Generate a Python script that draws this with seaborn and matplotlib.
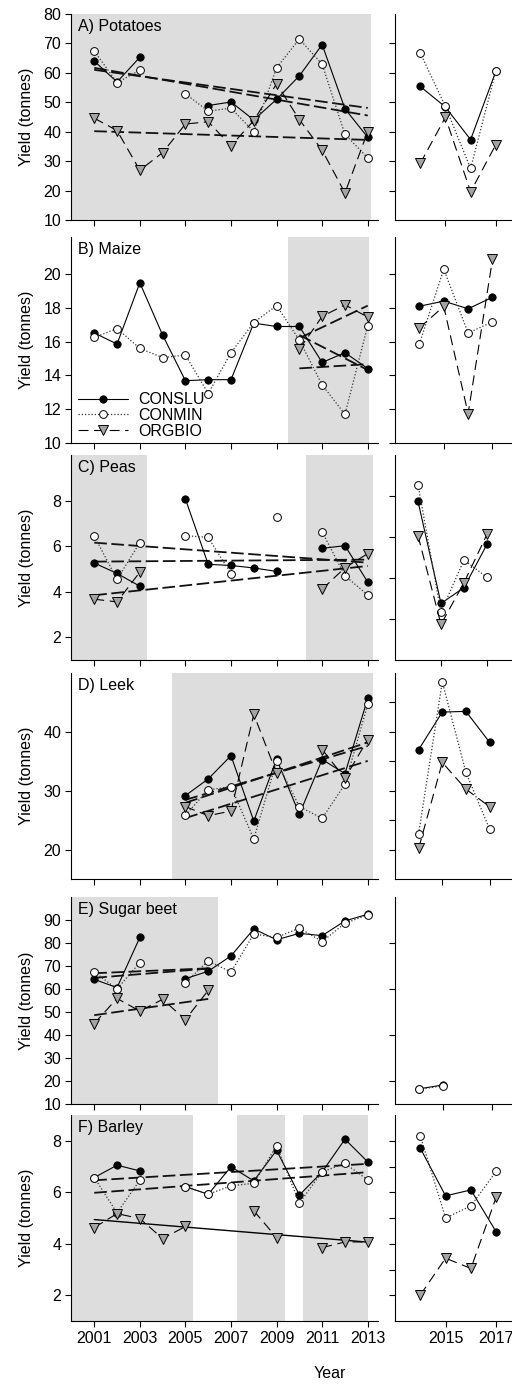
import numpy as np
import pandas as pd
import matplotlib
matplotlib.use("Agg")
import matplotlib.pyplot as plt
from matplotlib.lines import Line2D
import seaborn as sns

nan = np.nan
years_early = list(range(2001, 2014))
years_late = [2014, 2015, 2016, 2017]
treatments = ["CONSLU", "CONMIN", "ORGBIO"]
crop_titles = ["A) Potatoes", "B) Maize", "C) Peas", "D) Leek", "E) Sugar beet", "F) Barley"]

# ---------------- data (tonnes) ----------------
potatoes_conslu = [64.0, 56.9, 65.3, nan, nan, 48.9, 50.1, 44.0, 51.0, 59.0, 69.6, 47.8, 38.1]
potatoes_conmin = [67.4, 56.7, 60.9, nan, 52.9, 47.0, 48.0, 40.0, 61.7, 71.5, 62.9, 39.1, 31.1]
potatoes_orgbio = [44.6, 40.4, 26.9, 32.9, 42.6, 43.4, 35.2, 43.8, 56.3, 44.1, 33.7, 19.2, 40.0]
potatoes_conslu_late = [55.4, 48.4, 37.3, 60.5]
potatoes_conmin_late = [66.8, 48.6, 27.5, 60.6]
potatoes_orgbio_late = [29.2, 44.9, 19.6, 35.6]

maize_conslu = [16.52, 15.86, 19.49, 16.39, 13.69, 13.75, 13.75, 17.1, 16.9, 16.9, 14.77, 15.35, 14.41]
maize_conmin = [16.25, 16.78, 15.6, 15.06, 15.21, 12.93, 15.35, 17.13, 18.14, 16.09, 13.44, 11.7, 16.95]
maize_orgbio = [nan, nan, nan, nan, nan, nan, nan, nan, nan, 15.55, 17.5, 18.18, 17.46]
maize_conslu_late = [18.1, 18.4, 17.95, 18.63]
maize_conmin_late = [15.86, 20.29, 16.52, 17.17]
maize_orgbio_late = [16.82, 18.09, 11.74, 20.88]

peas_conslu = [5.26, 4.8, 4.24, nan, 8.07, 5.2, 5.15, 5.04, 4.89, nan, 5.9, 6.02, 4.42]
peas_conmin = [6.44, 4.54, 6.15, nan, 6.46, 6.38, 4.79, nan, 7.26, nan, 6.62, 4.7, 3.85]
peas_orgbio = [3.67, 3.55, 4.86, nan, nan, nan, nan, nan, nan, nan, 4.11, 5.05, 5.67]
peas_conslu_late = [7.74, 2.76, 3.53, 5.64]
peas_conmin_late = [8.55, 2.33, 4.88, 4.03]
peas_orgbio_late = [6.07, 1.74, 3.77, 6.13]

leek_conslu = [nan, nan, nan, nan, 29.17, 32.0, 35.95, 24.84, 35.4, 26.0, 35.3, 32.9, 45.7]
leek_conmin = [nan, nan, nan, nan, 25.87, 30.14, 30.7, 21.8, 35.0, 27.3, 25.3, 31.1, 44.67]
leek_orgbio = [nan, nan, nan, nan, 27.3, 25.75, 26.55, 42.96, 33.0, nan, 37.0, 32.1, 38.7]
leek_conslu_late = [36.98, 43.36, 43.48, 38.23]
leek_conmin_late = [22.7, 48.5, 33.1, 23.5]
leek_orgbio_late = [20.2, 34.8, 30.26, 27.3]

beet_conslu = [64.2, 60.6, 82.4, nan, 64.5, 67.7, 74.4, 86.1, 81.4, 84.2, 83.2, 89.6, 92.5]
beet_conmin = [67.4, 60.0, 71.5, nan, 62.8, 72.2, 67.4, 83.9, 82.4, 86.5, 80.6, 88.6, 92.2]
beet_orgbio = [45.0, 55.9, 50.4, 55.5, 46.7, 59.4, nan, nan, nan, nan, nan, nan, nan]
beet_conslu_late = [16.6, 18.3, nan, nan]
beet_conmin_late = [16.4, 17.9, nan, nan]
beet_orgbio_late = [nan, nan, nan, nan]

barley_conslu = [6.57, 7.05, 6.83, nan, 6.22, 5.92, 6.99, 6.44, 7.63, 5.89, 6.79, 8.06, 7.18]
barley_conmin = [6.57, 5.2, 6.47, nan, 6.22, 5.92, 6.25, 6.35, 7.8, 5.58, 6.79, 7.12, 6.48]
barley_orgbio = [4.63, 5.17, 4.98, 4.2, 4.67, nan, nan, 5.28, 4.24, nan, 3.85, 4.07, 4.07]
barley_conslu_late = [7.71, 5.86, 6.09, 4.46]
barley_conmin_late = [8.19, 5.0, 5.47, 6.81]
barley_orgbio_late = [2.01, 3.44, 3.04, 5.81]

# years used for the linear trends in each panel
trend_first_year = [2001, 2010, 2001, 2001, 2001, 2001]
trend_last_year = [2013, 2013, 2013, 2013, 2006, 2013]

# grey shaded periods
shade_potatoes = [(1999.5, 2013.15)]
shade_maize = [(2009.52, 2013.05)]
shade_peas = [(1999.5, 2003.32), (2010.3, 2013.25)]
shade_leek = [(2004.43, 2013.25)]
shade_beet = [(1999.5, 2006.45)]
shade_barley = [(1999.5, 2005.33), (2007.26, 2009.38), (2010.17, 2013.0)]

# ---------------- style ----------------
sns.set_theme(style="ticks")
plt.rcParams['font.family'] = ['Liberation Sans', 'DejaVu Sans']
plt.rcParams.update({
    "text.color": "black", "axes.labelcolor": "black",
    "xtick.color": "black", "ytick.color": "black",
    "axes.edgecolor": "black", "axes.linewidth": 0.8,
})
FS = 11.5
SHADE = "#DDDDDD"

styles = {
    "CONSLU": dict(color="black", lw=0.8, linestyle="-", marker="o", ms=5.3,
                   mfc="black", mec="black", mew=0.6),
    "CONMIN": dict(color="#333333", lw=0.9, linestyle=(0, (1, 1.6)), marker="o", ms=5.6,
                   mfc="white", mec="black", mew=0.7),
    "ORGBIO": dict(color="black", lw=0.8, linestyle=(0, (9, 5)), marker="v", ms=7.8,
                   mfc="#A3A3A3", mec="black", mew=0.7),
}

panels = [
    (potatoes_conslu, potatoes_conmin, potatoes_orgbio,
     potatoes_conslu_late, potatoes_conmin_late, potatoes_orgbio_late, shade_potatoes),
    (maize_conslu, maize_conmin, maize_orgbio,
     maize_conslu_late, maize_conmin_late, maize_orgbio_late, shade_maize),
    (peas_conslu, peas_conmin, peas_orgbio,
     peas_conslu_late, peas_conmin_late, peas_orgbio_late, shade_peas),
    (leek_conslu, leek_conmin, leek_orgbio,
     leek_conslu_late, leek_conmin_late, leek_orgbio_late, shade_leek),
    (beet_conslu, beet_conmin, beet_orgbio,
     beet_conslu_late, beet_conmin_late, beet_orgbio_late, shade_beet),
    (barley_conslu, barley_conmin, barley_orgbio,
     barley_conslu_late, barley_conmin_late, barley_orgbio_late, shade_barley),
]

# layout (pixels of a 512 x 1384 canvas)
W, H = 512, 1384
rows_px = [(14, 220), (237, 443), (455, 660), (673, 879), (897, 1104), (1115, 1321)]
left_x0, left_x1 = 71, 378
right_x0, right_x1 = 395, 521
ylims_left = [(10, 80), (10, 22.2), (1, 10), (15, 50), (10, 100), (1, 9)]
ylims_right = [(10, 80), (10, 22.2), (0, 10), (15, 50), (10, 100), (1, 9)]
yticks_left = [range(10, 81, 10), range(10, 21, 2), [2, 4, 6, 8], [20, 30, 40],
               range(10, 91, 10), [2, 4, 6, 8]]
yticks_right = [range(20, 71, 10), range(10, 21, 2), [2, 4, 6, 8], range(20, 46, 5),
                [20, 40, 60, 80], range(2, 9)]
right_xmax = [2018.0, 2018.17, 2018.48, 2018.33, 2018.22, 2017.98]

fig = plt.figure(figsize=(W / 100, H / 100), dpi=100)


def draw_series(ax, years, values, name):
    s = pd.Series(values, index=years, dtype=float)
    grp = s.isna().cumsum()
    for _, seg in s.groupby(grp):
        seg = seg.dropna()
        if len(seg) == 0:
            continue
        sns.lineplot(x=seg.index.values, y=seg.values, ax=ax, zorder=4, **styles[name])


for i, (c1, c2, c3, l1, l2, l3, shades) in enumerate(panels):
    top, bot = rows_px[i]
    yb = 1 - bot / H
    hh = (bot - top) / H
    axl = fig.add_axes([left_x0 / W, yb, (left_x1 - left_x0) / W, hh])
    axr = fig.add_axes([right_x0 / W, yb, (right_x1 - right_x0) / W, hh])

    for a, b in shades:
        axl.axvspan(a, b, color=SHADE, lw=0, zorder=0)

    # linear trends
    for name, vals in zip(treatments, (c1, c2, c3)):
        df = pd.DataFrame({"year": years_early, "y": vals}).dropna()
        df = df[(df.year >= trend_first_year[i]) & (df.year <= trend_last_year[i])]
        if len(df) < 2:
            continue
        if i == 5 and name == "ORGBIO":
            lk = dict(color="black", lw=1.0, linestyle="-", zorder=3)
        else:
            lk = dict(color="#111111", lw=1.3, linestyle=(0, (7, 2.5)), zorder=3)
        sns.regplot(data=df, x="year", y="y", ax=axl, scatter=False, ci=None,
                    truncate=True, color="black", line_kws=lk)

    for name, vals in zip(treatments, (c1, c2, c3)):
        draw_series(axl, years_early, vals, name)
    for name, vals in zip(treatments, (l1, l2, l3)):
        draw_series(axr, years_late, vals, name)

    axl.set_xlim(1999.98, 2013.45)
    axr.set_xlim(2013.0, right_xmax[i])
    axl.set_ylim(*ylims_left[i])
    axr.set_ylim(*ylims_right[i])
    axl.set_yticks(list(yticks_left[i]))
    axr.set_yticks(list(yticks_right[i]))
    axr.set_yticklabels([])
    axl.set_xticks(list(range(2001, 2014, 2)))
    axr.set_xticks([2015, 2017])
    if i < 5:
        axl.set_xticklabels([])
        axr.set_xticklabels([])
    for a in (axl, axr):
        a.set_facecolor("none")
        sns.despine(ax=a)
        a.tick_params(direction="out", length=4, width=0.8, labelsize=FS, pad=3)
        a.set_xlabel("")
        a.set_ylabel("")
    axl.set_ylabel("Yield (tonnes)", fontsize=FS)
    axl.yaxis.set_label_coords(-0.12, 0.5)
    axl.text(7 / (left_x1 - left_x0), 1 - 5 / (bot - top), crop_titles[i],
             transform=axl.transAxes, ha="left", va="top", fontsize=FS)

    if i == 1:
        handles = [Line2D([], [], **{k: v for k, v in styles[n].items()}) for n in treatments]
        axl.legend(handles, treatments, loc="lower left", frameon=False, fontsize=FS,
                   handlelength=3.1, handletextpad=0.7, labelspacing=0.05,
                   borderpad=0, borderaxespad=0, bbox_to_anchor=(7 / 307, 0.02))

fig.text(330 / W, 1 - 1373 / H, "Year", ha="center", va="center", fontsize=FS)

fig.savefig("out.png", dpi=100)
